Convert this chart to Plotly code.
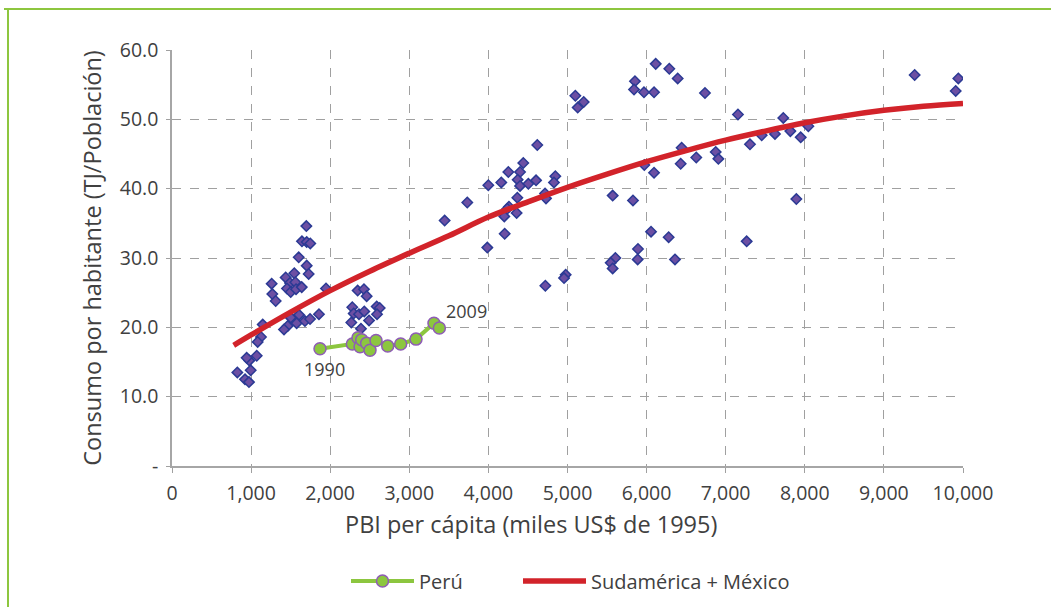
import plotly.graph_objects as go

# ---------------- data ----------------
# Countries scatter (PBI per cápita, consumo por habitante)
pais_x = [1698, 1643, 1703, 1748, 1602, 1703, 1728, 1546, 1437, 1492, 1559, 1260, 1454, 1501,
          1568, 1640, 1947, 1268, 1311, 1606, 1501, 1463, 1416, 1576, 1681, 1745, 1858, 1147,
          1125, 1083, 1071, 977, 944, 995, 826, 923, 973,
          2347, 2427, 2461, 2279, 2297, 2364, 2431, 2588, 2626, 2592, 2491, 2267, 2389,
          4618, 4441, 4252, 4400, 4370, 4163, 3999, 4400, 4505, 4602, 4846, 4829, 3733, 3447,
          4366, 4716, 4728, 4260, 4239, 4201, 4357, 4206, 3986, 5571, 5605, 5546, 5571, 4977,
          4956, 4720,
          6115, 6287, 6393, 5853, 5841, 5967, 6094, 6738, 5099, 5205, 5129, 7155, 6443, 6431,
          6628, 6874, 6907, 7307, 7455, 5971, 6094, 5828, 6056, 6279, 7265, 5891, 5887, 6359,
          9389, 9941, 9908, 7728, 8045, 7817, 7623, 7948, 7893]
pais_y = [34.6, 32.4, 32.3, 32.1, 30.1, 28.9, 27.7, 27.8, 27.2, 26.4, 26.5, 26.3, 25.6, 25.1,
          25.5, 25.8, 25.6, 24.8, 23.8, 21.8, 21.4, 20.2, 19.7, 20.6, 20.9, 21.2, 21.9, 20.4,
          18.6, 17.9, 15.9, 15.2, 15.6, 13.8, 13.5, 12.5, 12.1,
          25.3, 25.5, 24.5, 22.9, 22.0, 21.9, 22.3, 23.0, 22.8, 21.9, 21.0, 20.7, 19.8,
          46.3, 43.7, 42.4, 42.4, 41.3, 40.9, 40.5, 40.4, 40.7, 41.2, 41.8, 40.9, 38.0, 35.4,
          38.7, 39.3, 38.6, 37.4, 37.1, 36.0, 36.5, 33.5, 31.5, 39.0, 30.0, 29.3, 28.5, 27.6,
          27.1, 26.0,
          58.0, 57.3, 55.9, 55.5, 54.3, 53.9, 53.9, 53.8, 53.4, 52.5, 51.7, 50.7, 45.9, 43.6,
          44.5, 45.3, 44.3, 46.4, 47.7, 43.4, 42.3, 38.3, 33.8, 33.0, 32.4, 31.3, 29.8, 29.8,
          56.4, 55.9, 54.1, 50.2, 49.0, 48.3, 47.9, 47.4, 38.5]

# Perú 1990-2009
peru_x = [1871, 2280, 2351, 2377, 2398, 2461, 2503, 2579, 2727, 2891, 3085, 3312, 3380]
peru_y = [16.9, 17.6, 18.5, 17.2, 18.2, 17.7, 16.7, 18.1, 17.3, 17.6, 18.3, 20.6, 19.9]

# Tendencia Sudamérica + México
tend_x = [780, 1000, 1500, 2000, 2500, 3000, 3500, 4000, 4500, 5000, 5500, 6000, 6500,
          7000, 7500, 8000, 8500, 9000, 9500, 10000]
tend_y = [17.4, 18.9, 22.2, 25.3, 28.1, 30.7, 33.2, 35.9, 38.1, 40.2, 42.1, 43.9, 45.5,
          47.0, 48.3, 49.5, 50.5, 51.3, 51.9, 52.3]

x_ticks = [0, 1000, 2000, 3000, 4000, 5000, 6000, 7000, 8000, 9000, 10000]
x_ticktext = ["0", "1,000", "2,000", "3,000", "4,000", "5,000", "6,000", "7,000",
              "8,000", "9,000", "10,000"]
y_ticks = [0, 10, 20, 30, 40, 50, 60]
y_ticktext = ["-", "10.0", "20.0", "30.0", "40.0", "50.0", "60.0"]

FONT = "Open Sans"
TXT = "#404040"
GRID = "#a0a0a0"
W, H = 1051, 607

# plot area in pixels (for placing the out-of-plot decorations)
PL, PR, PT, PB = 172, 963, 50, 466
PW, PH = PR - PL, PB - PT


def px_x(p):
    return (p - PL) / PW


def px_y(p):
    return (PB - p) / PH


fig = go.Figure()

fig.add_trace(go.Scatter(
    x=pais_x, y=pais_y, mode="markers", showlegend=False, name="Países",
    marker=dict(symbol="diamond", size=8, color="#6C4FA3",
                line=dict(color="#2B3A94", width=1.5)),
))

fig.add_trace(go.Scatter(
    x=peru_x, y=peru_y, mode="lines+markers", name="Perú", legend="legend",
    line=dict(color="#8CC63F", width=4),
    marker=dict(symbol="circle", size=12, color="#8CC63F",
                line=dict(color="#8E5CB5", width=1.5)),
))

fig.add_trace(go.Scatter(
    x=tend_x, y=tend_y, mode="lines", name="Sudamérica + México", legend="legend2",
    line=dict(color="#D2232A", width=5.5, shape="spline"),
))

fig.add_annotation(x=1934, y=14.0, text="1990", showarrow=False,
                   font=dict(family=FONT, size=18, color=TXT))
fig.add_annotation(x=3717, y=22.4, text="2009", showarrow=False,
                   font=dict(family=FONT, size=18, color=TXT))

# x-axis title
fig.add_annotation(xref="paper", yref="paper", x=px_x(531), y=px_y(524),
                   xanchor="center", yanchor="middle",
                   text="PBI per cápita (miles US$ de 1995)", showarrow=False,
                   font=dict(family=FONT, size=23.5, color=TXT))

# green frame (top and left)
fig.add_shape(type="line", xref="paper", yref="paper",
              x0=px_x(4), x1=px_x(1060), y0=px_y(9), y1=px_y(9),
              line=dict(color="#8DC63F", width=2))
fig.add_shape(type="line", xref="paper", yref="paper",
              x0=px_x(8), x1=px_x(8), y0=px_y(9), y1=px_y(620),
              line=dict(color="#8DC63F", width=2))

leg_common = dict(orientation="h", xref="container", yref="container",
                  yanchor="middle", y=(H - 581) / H, xanchor="left",
                  font=dict(family=FONT, size=20, color=TXT), itemwidth=63,
                  bgcolor="rgba(0,0,0,0)")

fig.update_layout(
    width=W, height=H,
    margin=dict(l=PL, r=W - PR, t=PT, b=H - PB, autoexpand=False),
    paper_bgcolor="white", plot_bgcolor="white",
    font=dict(family=FONT, size=18, color=TXT),
    legend=dict(x=346 / W, **leg_common),
    legend2=dict(x=518 / W, **leg_common),
    xaxis=dict(range=[0, 10000], tickvals=x_ticks, ticktext=x_ticktext,
               showgrid=True, gridcolor=GRID, griddash="dash", gridwidth=1,
               showline=True, linecolor="#a6a6a6", linewidth=1.5,
               zeroline=False, ticks="outside", ticklen=5, tickcolor=GRID,
               ticklabelstandoff=4, automargin=False,
               tickfont=dict(family=FONT, size=19.5, color=TXT)),
    yaxis=dict(range=[0, 60], tickvals=y_ticks, ticktext=y_ticktext,
               title=dict(text="Consumo por habitante (TJ/Población)",
                          font=dict(family=FONT, size=23.5, color=TXT), standoff=12),
               showgrid=True, gridcolor=GRID, griddash="dash", gridwidth=1,
               showline=True, linecolor="#a6a6a6", linewidth=1.5,
               zeroline=False, ticks="outside", ticklen=4, tickcolor=GRID,
               ticklabelstandoff=4, automargin=False,
               tickfont=dict(family=FONT, size=19.5, color=TXT)),
)

fig.write_html("out.html", config={"displayModeBar": False},
               post_script="document.body.style.margin='0';")
